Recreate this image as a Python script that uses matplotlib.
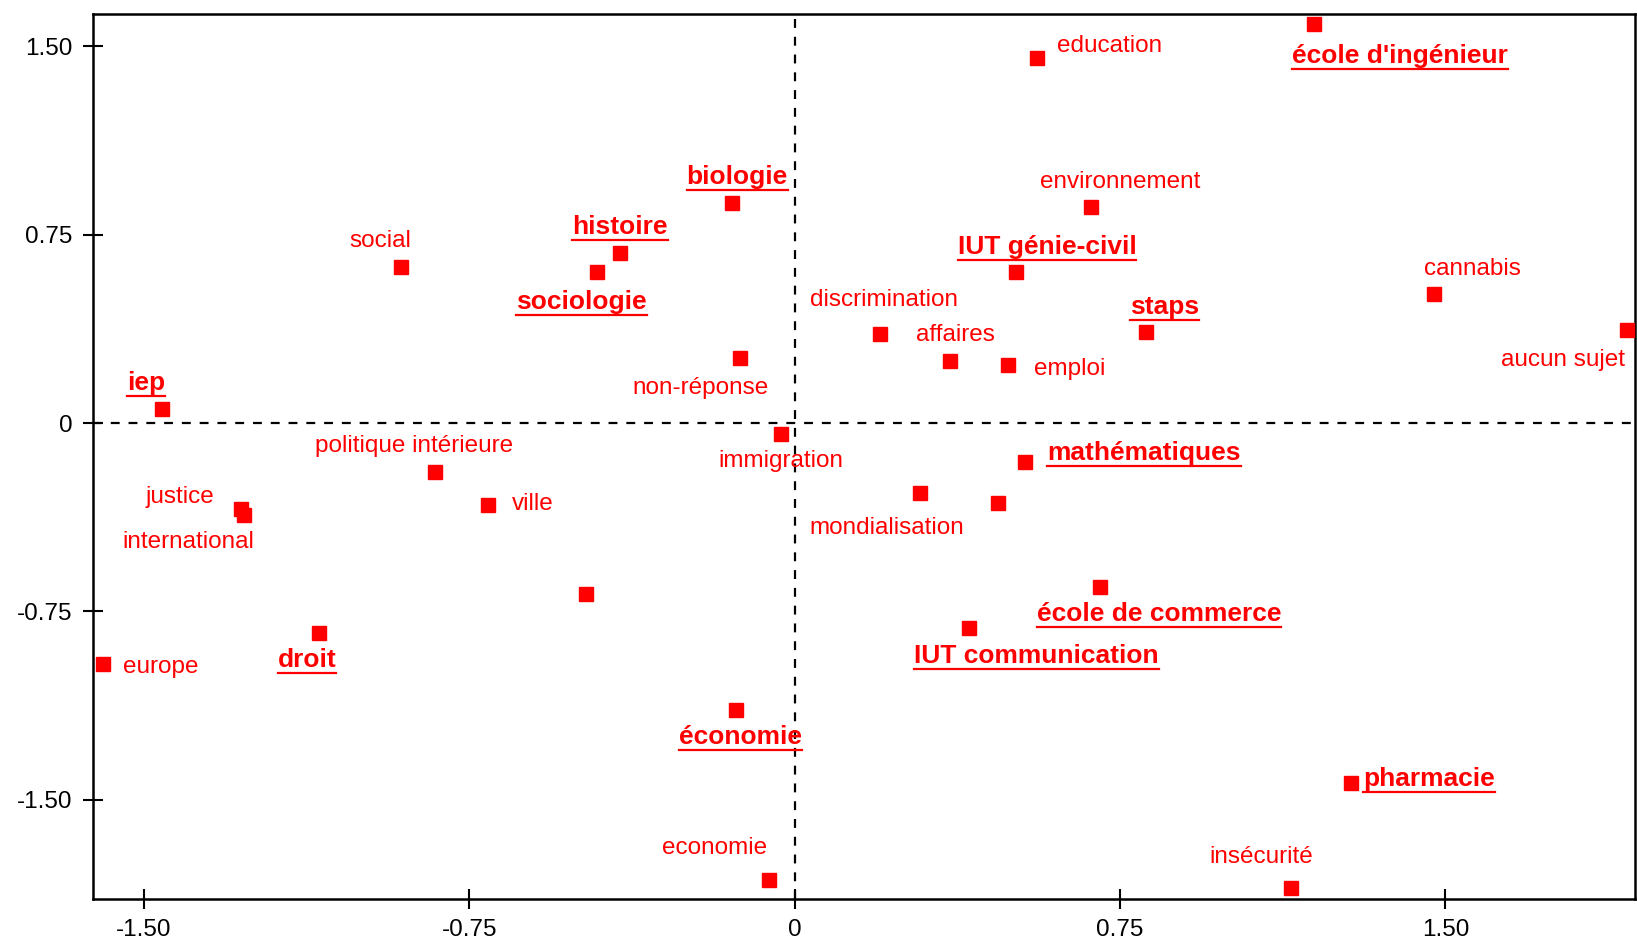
import matplotlib.pyplot as plt
from matplotlib.lines import Line2D
from matplotlib.transforms import IdentityTransform

# points du plan factoriel (axe 1, axe 2)
labels = ["education", "école d'ingénieur", "biologie", "environnement", "histoire",
          "social", "sociologie", "IUT génie-civil", "cannabis", "aucun sujet",
          "discrimination", "staps", "affaires", "emploi", "non-réponse", "iep",
          "immigration", "politique intérieure", "mathématiques", "justice",
          "international", "ville", "mondialisation", "", "école de commerce", "",
          "IUT communication", "droit", "europe", "économie", "pharmacie",
          "economie", "insécurité"]
x = [0.558, 1.198, -0.144, 0.683, -0.402,
     -0.907, -0.455, 0.510, 1.473, 1.918,
     0.197, 0.811, 0.359, 0.491, -0.125, -1.458,
     -0.031, -0.828, 0.532, -1.275,
     -1.268, -0.707, 0.289, 0.469, 0.705, -0.481,
     0.402, -1.095, -1.595, -0.135, 1.282,
     -0.058, 1.145]
y = [1.454, 1.587, 0.877, 0.860, 0.677,
     0.619, 0.602, 0.602, 0.515, 0.370,
     0.353, 0.361, 0.245, 0.229, 0.258, 0.054,
     -0.042, -0.195, -0.154, -0.341,
     -0.366, -0.328, -0.278, -0.320, -0.652, -0.681,
     -0.814, -0.835, -0.960, -1.143, -1.433,
     -1.820, -1.849]
# formations (gras souligné) vs thèmes
bold = [False, True, True, False, True,
        False, True, True, False, False,
        False, True, False, False, False, True,
        False, False, True, False,
        False, False, False, False, True, False,
        True, True, False, True, True,
        False, False]
ticks = [-1.5, -0.75, 0, 0.75, 1.5]
tick_labels = ["-1.50", "-0.75", "0", "0.75", "1.50"]

# décalage des étiquettes (pixels, repère image)
offsets = [(70, 11), (82, -31), (5, 25), (28, 24), (0, 25),
           (-20, 25), (-15, -29), (30, 24), (37, 24), (-61, -29),
           (4, 33), (17, 24), (5, 25), (60, -3), (-38, -29), (-15, 25),
           (0, -26), (-20, 25), (114, 8), (-59, 11),
           (-54, -26), (43, 1), (-32, -34), (0, 0), (56, -26), (0, 0),
           (65, -27), (-12, -26), (56, -3), (4, -26), (75, 4),
           (-53, 31), (-29, 29)]

plt.rcParams['font.family'] = ['Liberation Sans', 'DejaVu Sans']
fig = plt.figure(figsize=(16.37, 9.46), dpi=100)
ax = fig.add_axes([0.0568, 0.0497, 0.942, 0.9359])
ax.set_xlim(-1.617, 1.937)
ax.set_ylim(-1.894, 1.629)

ax.axhline(0, color='black', ls=(0, (4, 4)), lw=1.6, zorder=1)
ax.axvline(0, color='black', ls=(0, (4, 4)), lw=1.6, zorder=1)
ax.plot(x, y, 's', color='#ff0000', ms=10, zorder=3, clip_on=False)

texts = []
for lab, xi, yi, b, (dx, dy) in zip(labels, x, y, bold, offsets):
    if not lab:
        continue
    t = ax.annotate(lab, (xi, yi), xytext=(dx * 0.75, dy * 0.75),
                    textcoords='offset points', ha='center', va='center',
                    color='#ff0000', fontsize=19 if b else 17.5,
                    fontweight='bold' if b else 'normal', annotation_clip=False)
    if b:
        texts.append(t)

ax.set_xticks(ticks)
ax.set_xticklabels(tick_labels)
ax.set_yticks(ticks)
ax.set_yticklabels(tick_labels)
ax.tick_params(direction='inout', length=15, width=1.5, labelsize=17.5, pad=7)
for s in ax.spines.values():
    s.set_linewidth(1.8)

# soulignement des formations
fig.canvas.draw()
r = fig.canvas.get_renderer()
for t in texts:
    bb = t.get_window_extent(r)
    fig.add_artist(Line2D([bb.x0, bb.x1], [bb.y0 - 1, bb.y0 - 1], color='#ff0000',
                          lw=1.6, transform=IdentityTransform()))

fig.savefig('out.png', dpi=100)
